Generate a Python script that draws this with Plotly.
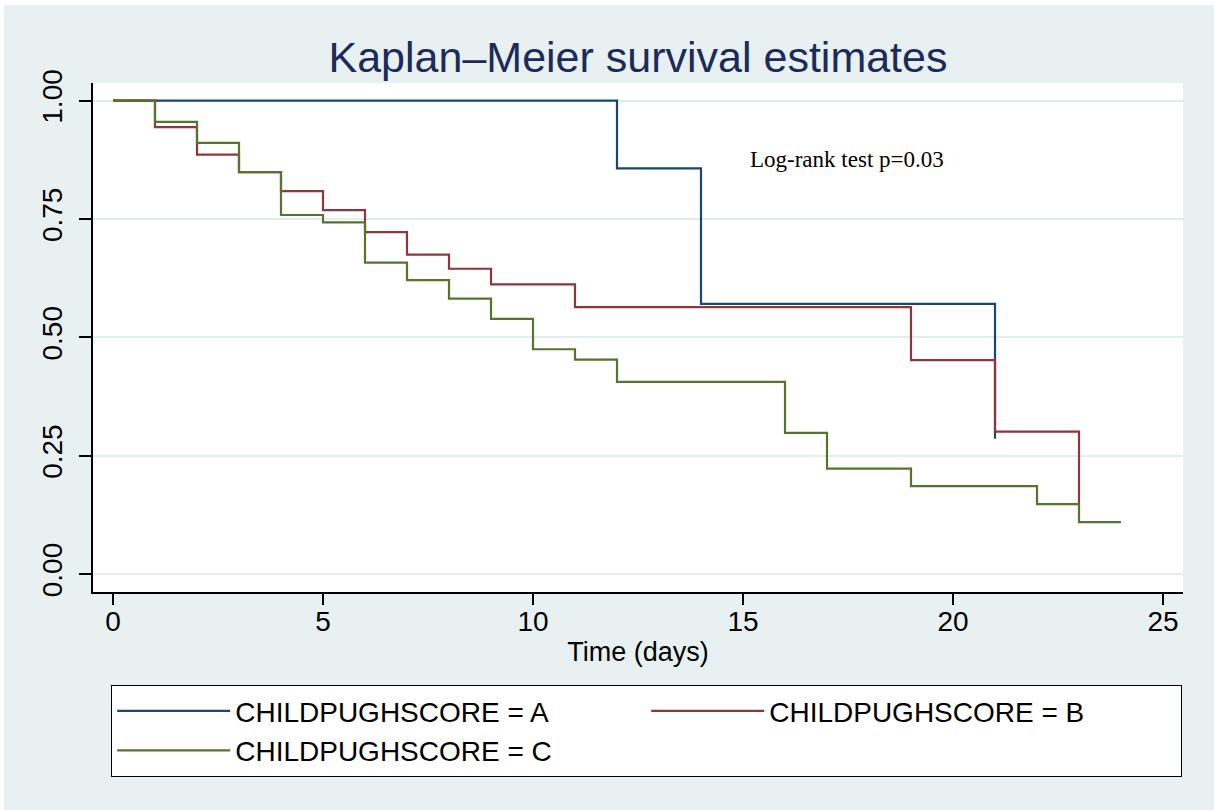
import plotly.graph_objects as go

# ---- data ----
series_names = ["CHILDPUGHSCORE = A", "CHILDPUGHSCORE = B", "CHILDPUGHSCORE = C"]

time_a = [0, 12, 14, 21]
surv_a = [1.0, 0.857, 0.571, 0.286]

time_b = [0, 1, 2, 3, 4, 5, 6, 7, 8, 9, 11, 19, 21, 23]
surv_b = [1.0, 0.944, 0.886, 0.849, 0.809, 0.769, 0.7225, 0.675, 0.645, 0.612, 0.564, 0.452, 0.301, 0.150]

time_c = [0, 1, 2, 3, 4, 5, 6, 7, 8, 9, 10, 11, 12, 16, 17, 19, 22, 23, 24]
surv_c = [1.0, 0.955, 0.911, 0.849, 0.7585, 0.743, 0.658, 0.621, 0.582, 0.539, 0.475, 0.453, 0.406, 0.2985, 0.223, 0.186, 0.148, 0.110, 0.110]

x_ticks = [0, 5, 10, 15, 20, 25]
y_ticks = [0, 0.25, 0.5, 0.75, 1.0]
y_tick_labels = ["0.00", "0.25", "0.50", "0.75", "1.00"]

colors = ["#1a476f", "#90353b", "#55752f"]

title_text = "Kaplan\u2013Meier survival estimates"
x_title = "Time (days)"
note_text = "Log-rank test p=0.03"
note_x, note_y = 15.12, 0.875

W, H = 1214, 810
ML, MR, MT, MB = 93, 31, 83, 218
BG = "#e9f0f2"

fig = go.Figure()
for t, s, name, c in zip([time_a, time_b, time_c], [surv_a, surv_b, surv_c], series_names, colors):
    fig.add_trace(go.Scatter(x=t, y=s, mode="lines", name=name,
                             line=dict(color=c, width=2.2, shape="hv")))

pw = W - ML - MR
ph = H - MT - MB

def px_x(p):
    return (p - ML) / pw

def px_y(p):
    return (H - MB - p) / ph

fig.update_layout(
    width=W, height=H,
    margin=dict(l=ML, r=MR, t=MT, b=MB, pad=0),
    paper_bgcolor="white",
    plot_bgcolor="white",
    font=dict(family="Liberation Sans, Arial, sans-serif", color="black"),
    title=dict(text=title_text, font=dict(size=43, color="#1c2b59"),
               x=0.5, xref="paper", xanchor="center",
               y=1 - 57 / H, yref="container", yanchor="middle"),
    xaxis=dict(range=[-0.476, 25.476], tickvals=x_ticks, showgrid=False, zeroline=False,
               showline=True, linecolor="black", linewidth=1.5,
               ticks="outside", ticklen=11, tickwidth=1.5, tickcolor="black",
               tickfont=dict(size=28), ticklabelstandoff=-7,
               title=dict(text=x_title, font=dict(size=27), standoff=6)),
    yaxis=dict(range=[-0.0376, 1.0373], tickvals=y_ticks, ticktext=y_tick_labels,
               showgrid=True, gridcolor="#e3ecef", gridwidth=2, zeroline=False,
               showline=True, linecolor="black", linewidth=1.5,
               ticks="outside", ticklen=12, tickwidth=1.5, tickcolor="black",
               tickfont=dict(size=28), tickangle=-90, ticklabelstandoff=6),
    legend=dict(orientation="h", x=px_x(111), xanchor="left", y=px_y(685), yanchor="top",
                bgcolor="white", bordercolor="black", borderwidth=1.2,
                font=dict(size=28), itemwidth=113,
                entrywidth=406, entrywidthmode="pixels",
                traceorder="normal"),
    showlegend=True,
    shapes=[
        dict(type="rect", xref="paper", yref="paper",
             x0=px_x(4), x1=px_x(W + 5), y0=px_y(H + 5), y1=px_y(5),
             fillcolor=BG, line=dict(width=0), layer="below"),
        dict(type="rect", xref="paper", yref="paper",
             x0=0, x1=1, y0=0, y1=1,
             fillcolor="white", line=dict(width=0), layer="below"),
    ],
    annotations=[
        dict(text=note_text, x=note_x, y=note_y, xref="x", yref="y",
             xanchor="left", yanchor="middle", showarrow=False,
             font=dict(family="Liberation Serif, Times New Roman, serif", size=23, color="black")),
    ],
)

fig.write_html("out.html",
               config={"displayModeBar": False},
               post_script="document.body.style.margin='0';document.body.style.padding='0';")
